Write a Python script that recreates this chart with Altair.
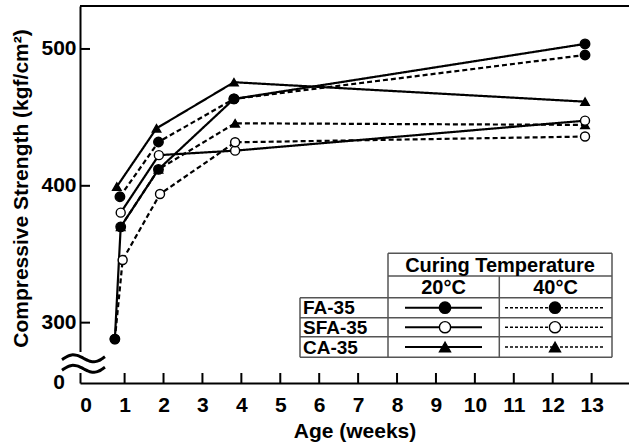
import altair as alt
import pandas as pd
import numpy as np

W, H = 549, 377
FONT = "Liberation Sans"

# ---------------- data ----------------
temps = ["20°C", "40°C"]

fa20_w = [0.75, 0.90, 1.87, 3.81, 12.83]
fa20_v = [288, 370, 412, 463.5, 503.7]
fa40_w = [0.88, 1.87, 3.81, 12.83]
fa40_v = [392, 432, 463.5, 495.6]
sfa20_w = [0.90, 1.88, 3.84, 12.83]
sfa20_v = [380.4, 422.4, 425.7, 447.6]
sfa40_w = [0.75, 0.95, 1.91, 3.84, 12.83]
sfa40_v = [288, 345.8, 394, 431.8, 436]
ca20_w = [0.80, 1.82, 3.81, 12.83]
ca20_v = [399.4, 442, 475.7, 461.5]
ca40_w = [0.90, 1.87, 3.84, 12.83]
ca40_v = [370, 412, 445.7, 444.5]

x_tick_labels = list(range(0, 14))
x_inner_ticks = list(range(1, 14))
y_tick_values = [300, 400, 500]
y_domain = [255.9, 531.4]
x_domain = [-0.146, 13.96]

series = [
    ("CA-35", "20°C", ca20_w, ca20_v),
    ("CA-35", "40°C", ca40_w, ca40_v),
    ("SFA-35", "20°C", sfa20_w, sfa20_v),
    ("SFA-35", "40°C", sfa40_w, sfa40_v),
    ("FA-35", "20°C", fa20_w, fa20_v),
    ("FA-35", "40°C", fa40_w, fa40_v),
]
rows = []
for mix, temp, ws, vs in series:
    for i, (w, v) in enumerate(zip(ws, vs)):
        rows.append({"week": w, "strength": v, "mix": mix, "temp": temp,
                     "series": mix + " " + temp, "idx": i})
df = pd.DataFrame(rows)
one = pd.DataFrame({"k": [0]})

# ---------------- scales / axes ----------------
X = alt.X("week:Q",
          scale=alt.Scale(domain=x_domain, nice=False, zero=False),
          axis=alt.Axis(values=x_tick_labels, labelPadding=11, titlePadding=5,
                        labelAngle=0, format="d"),
          title="Age (weeks)")
Y = alt.Y("strength:Q",
          scale=alt.Scale(domain=y_domain, nice=False, zero=False),
          axis=alt.Axis(values=y_tick_values, labelPadding=4, titlePadding=9,
                        titleY=182),
          title="Compressive Strength (kgf/cm²)")

lines = alt.Chart(df).mark_line(color="black", strokeWidth=2.2).encode(
    x=X, y=Y, detail="series:N", order="idx:Q",
    strokeDash=alt.StrokeDash("temp:N", scale=alt.Scale(domain=temps, range=[[1, 0], [5, 3]]),
                              legend=None),
)

points = alt.Chart(df).mark_point(filled=True, stroke="black", strokeWidth=1.4, opacity=1).encode(
    x=X, y=Y,
    shape=alt.Shape("mix:N", scale=alt.Scale(domain=["FA-35", "SFA-35", "CA-35"],
                                             range=["circle", "circle", "triangle-up"]), legend=None),
    fill=alt.Fill("mix:N", scale=alt.Scale(domain=["FA-35", "SFA-35", "CA-35"],
                                           range=["black", "white", "black"]), legend=None),
    size=alt.Size("mix:N", scale=alt.Scale(domain=["FA-35", "SFA-35", "CA-35"],
                                           range=[90, 72, 135]), legend=None),
)

# inward ticks
xt = pd.DataFrame({"week": x_inner_ticks})
xticks = alt.Chart(xt).mark_rule(color="black", strokeWidth=2).encode(
    x=X, y=alt.value(H - 10), y2=alt.value(H))
yt = pd.DataFrame({"strength": y_tick_values})
yticks = alt.Chart(yt).mark_rule(color="black", strokeWidth=2).encode(
    y=Y, x=alt.value(0), x2=alt.value(10))

# top frame line
top = alt.Chart(one).mark_rule(color="black", strokeWidth=2).encode(
    x=alt.value(0), x2=alt.value(W), y=alt.value(0))

# axis break (white gap + two waves) and the "0" label
gap = alt.Chart(one).mark_rect(color="white").encode(
    x=alt.value(-4), x2=alt.value(4), y=alt.value(346), y2=alt.value(367))
t = np.linspace(0, 1, 21)
brk_rows = []
for k, c in enumerate([352.3, 362.8]):
    for j, tt in enumerate(t):
        brk_rows.append({"bx": -18 + 43 * tt,
                         "by": c + 1.5 - 4.2 * np.sin(2 * np.pi * tt) - 3 * tt,
                         "g": k, "o": j})
brk = alt.Chart(pd.DataFrame(brk_rows)).mark_line(color="black", strokeWidth=3,
                                                   interpolate="monotone").encode(
    x=alt.X("bx:Q", scale=None, axis=None), y=alt.Y("by:Q", scale=None, axis=None),
    detail="g:N", order="o:Q")
zero = alt.Chart(one).mark_text(text="0", font=FONT, fontSize=21, fontWeight="bold",
                                color="black", align="center", baseline="middle").encode(
    x=alt.value(-21), y=alt.value(377))

# ---------------- legend table ----------------
grid_segments = pd.DataFrame([
    {"x": 308, "x2": 532, "y": 247.3, "y2": 247.3},
    {"x": 308, "x2": 532, "y": 270, "y2": 270},
    {"x": 220, "x2": 532, "y": 291.7, "y2": 291.7},
    {"x": 220, "x2": 532, "y": 311.7, "y2": 311.7},
    {"x": 220, "x2": 532, "y": 330.7, "y2": 330.7},
    {"x": 220, "x2": 532, "y": 351.3, "y2": 351.3},
    {"x": 308, "x2": 308, "y": 247.3, "y2": 351.3},
    {"x": 532, "x2": 532, "y": 247.3, "y2": 351.3},
    {"x": 220, "x2": 220, "y": 291.7, "y2": 351.3},
    {"x": 419.3, "x2": 419.3, "y": 270, "y2": 351.3},
])
grid = alt.Chart(grid_segments).mark_rule(color="#555555", strokeWidth=1.5).encode(
    x=alt.X("x:Q", scale=None, axis=None), x2="x2:Q",
    y=alt.Y("y:Q", scale=None, axis=None), y2="y2:Q")

legend_rows_y = [301.7, 321.2, 341.0]
legend_mixes = ["FA-35", "SFA-35", "CA-35"]
leg_text = pd.DataFrame(
    [{"tx": 420, "ty": 259.5, "label": "Curing Temperature"},
     {"tx": 363.5, "ty": 282, "label": "20°C"},
     {"tx": 475.5, "ty": 282, "label": "40°C"}])
leg_text_c = alt.Chart(leg_text).mark_text(font=FONT, fontSize=20, fontWeight="bold",
                                           color="black", baseline="middle", align="center").encode(
    x=alt.X("tx:Q", scale=None, axis=None), y=alt.Y("ty:Q", scale=None, axis=None), text="label:N")
leg_names = pd.DataFrame({"tx": [223] * 3, "ty": [y + 0.5 for y in legend_rows_y], "label": legend_mixes})
leg_names_c = alt.Chart(leg_names).mark_text(font=FONT, fontSize=19, fontWeight="bold",
                                             color="black", baseline="middle", align="left").encode(
    x=alt.X("tx:Q", scale=None, axis=None), y=alt.Y("ty:Q", scale=None, axis=None), text="label:N")

sym_lines = []
sym_pts = []
for mix, ry in zip(legend_mixes, legend_rows_y):
    sym_lines.append({"x": 325, "x2": 402, "y": ry, "temp": "20°C"})
    sym_lines.append({"x": 425, "x2": 523, "y": ry, "temp": "40°C"})
    sym_pts.append({"x": 365, "y": ry, "mix": mix})
    sym_pts.append({"x": 475, "y": ry, "mix": mix})
leg_lines = alt.Chart(pd.DataFrame(sym_lines)).mark_rule(color="black").encode(
    x=alt.X("x:Q", scale=None, axis=None), x2="x2:Q",
    y=alt.Y("y:Q", scale=None, axis=None),
    strokeDash=alt.StrokeDash("temp:N", scale=alt.Scale(domain=temps, range=[[1, 0], [3, 2]]), legend=None),
    strokeWidth=alt.StrokeWidth("temp:N", scale=alt.Scale(domain=temps, range=[2, 1.5]), legend=None),
)
leg_pts = alt.Chart(pd.DataFrame(sym_pts)).mark_point(filled=True, stroke="black", strokeWidth=1.4,
                                                      opacity=1).encode(
    x=alt.X("x:Q", scale=None, axis=None), y=alt.Y("y:Q", scale=None, axis=None),
    shape=alt.Shape("mix:N", scale=alt.Scale(domain=["FA-35", "SFA-35", "CA-35"],
                                             range=["circle", "circle", "triangle-up"]), legend=None),
    fill=alt.Fill("mix:N", scale=alt.Scale(domain=["FA-35", "SFA-35", "CA-35"],
                                           range=["black", "white", "black"]), legend=None),
    size=alt.Size("mix:N", scale=alt.Scale(domain=["FA-35", "SFA-35", "CA-35"],
                                           range=[130, 120, 150]), legend=None),
)

chart = alt.layer(
    lines, points, xticks, yticks, top, gap, brk, zero,
    grid, leg_text_c, leg_names_c, leg_lines, leg_pts
).resolve_scale(
    shape="independent", fill="independent", size="independent", strokeDash="independent"
).properties(
    width=W, height=H, autosize="none",
    padding={"left": 80, "top": 6, "right": 0, "bottom": 60},
    background="white",
).configure_view(stroke=None).configure_axis(
    labelFont=FONT, titleFont=FONT, labelFontSize=21, titleFontSize=21,
    labelFontWeight="bold", titleFontWeight="bold", labelColor="black", titleColor="black",
    domainColor="black", domainWidth=2, ticks=False, grid=False,
)

chart.save("out.html", embed_options={"renderer": "svg", "actions": False})
